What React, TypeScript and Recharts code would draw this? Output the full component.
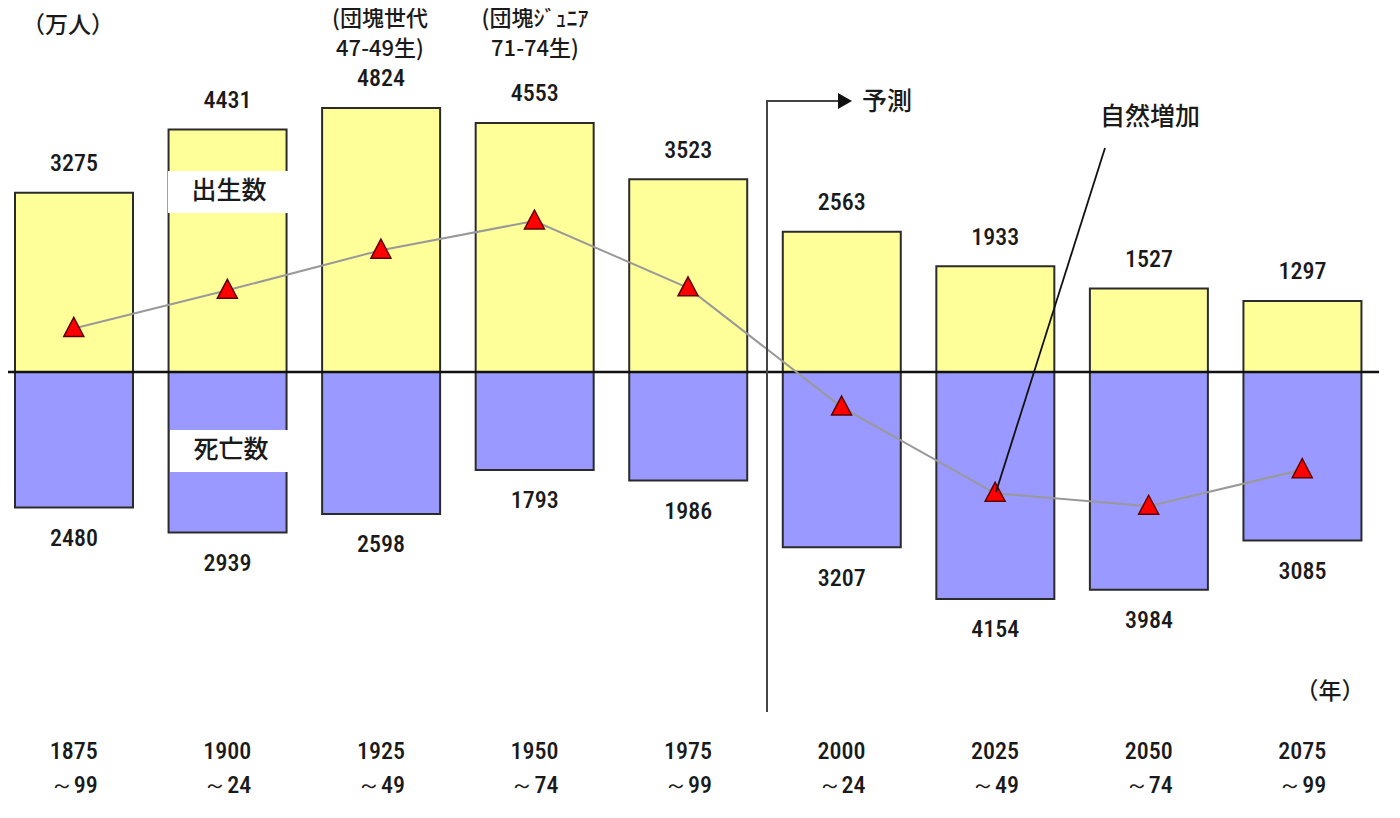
import React from "react";
import {
  ComposedChart,
  Bar,
  Line,
  XAxis,
  YAxis,
  ReferenceLine,
  LabelList,
} from "recharts";

// 出生数・死亡数（万人）、25年ごと
const periods = ["1875", "1900", "1925", "1950", "1975", "2000", "2025", "2050", "2075"];
const periodEnds = ["～99", "～24", "～49", "～74", "～99", "～24", "～49", "～74", "～99"];
const births = [3275, 4431, 4824, 4553, 3523, 2563, 1933, 1527, 1297];
const deaths = [2480, 2939, 2598, 1793, 1986, 3207, 4154, 3984, 3085];
const naturalIncrease = [795, 1492, 2226, 2760, 1537, -644, -2221, -2457, -1788];

const data = periods.map((p, i) => ({
  name: p,
  end: periodEnds[i],
  births: births[i],
  deaths: -deaths[i],
  natural: naturalIncrease[i],
}));

const NUM_FONT = '"Liberation Sans Narrow", "Roboto Condensed", "Liberation Sans", sans-serif';
const JP_FONT = '"Noto Sans CJK JP", sans-serif';
const TEXT = "#1a1a1a";

function BirthLabel(props: any) {
  const { x, y, width, value } = props;
  return (
    <text x={x + width / 2} y={y - 28} textAnchor="middle" dominantBaseline="middle"
      fontFamily={NUM_FONT} fontSize={24} fontWeight={500} fill={TEXT}>
      {value}
    </text>
  );
}

function DeathLabel(props: any) {
  const { x, y, width, height, value } = props;
  const bottom = Math.max(y, y + height);
  return (
    <text x={x + width / 2} y={bottom + 32} textAnchor="middle" dominantBaseline="middle"
      fontFamily={NUM_FONT} fontSize={24} fontWeight={500} fill={TEXT}>
      {Math.abs(value)}
    </text>
  );
}

function Triangle(props: any) {
  const { cx, cy } = props;
  if (cx == null || cy == null) return null;
  return (
    <path
      d={`M${cx},${cy - 11} L${cx - 10},${cy + 8} L${cx + 10},${cy + 8} Z`}
      fill="#ff0000"
      stroke="#600000"
      strokeWidth={1.5}
    />
  );
}

function PeriodTick(props: any) {
  const { x, payload, index } = props;
  return (
    <g>
      <text x={x} y={753} textAnchor="middle" dominantBaseline="middle"
        fontFamily={NUM_FONT} fontSize={24} fontWeight={500} fill={TEXT}>
        {payload.value}
      </text>
      <text x={x} y={787} textAnchor="middle" dominantBaseline="middle"
        fontFamily={NUM_FONT} fontSize={24} fontWeight={500} fill={TEXT}>
        {periodEnds[index]}
      </text>
    </g>
  );
}

function Notes() {
  const t = { fontFamily: JP_FONT, fontSize: 25, fontWeight: 500, fill: TEXT };
  const s = { fontFamily: JP_FONT, fontSize: 22, fontWeight: 500, fill: TEXT };
  return (
    <svg width={1400} height={818} style={{ position: "absolute", left: 3, top: 0, pointerEvents: "none" }}>
      <text x={68} y={27} textAnchor="middle" dominantBaseline="middle" {...s} fontSize={23}>（万人）</text>
      <text x={380} y={20} textAnchor="middle" dominantBaseline="middle" {...s}>(団塊世代</text>
      <text x={380} y={50} textAnchor="middle" dominantBaseline="middle" {...s}>47-49生)</text>
      <text x={535} y={20} textAnchor="middle" dominantBaseline="middle" {...s}>(団塊ｼﾞｭﾆｱ</text>
      <text x={535} y={50} textAnchor="middle" dominantBaseline="middle" {...s}>71-74生)</text>
      <text x={1330} y={693} textAnchor="middle" dominantBaseline="middle" {...s} fontSize={23}>（年）</text>

      <rect x={168} y={171} width={122} height={42} fill="#ffffff" />
      <text x={229} y={192} textAnchor="middle" dominantBaseline="middle" {...t}>出生数</text>
      <rect x={170} y={430} width={122} height={42} fill="#ffffff" />
      <text x={231} y={451} textAnchor="middle" dominantBaseline="middle" {...t}>死亡数</text>

      <polyline points="767,712 767,101 840,101" fill="none" stroke="#444" strokeWidth={2} />
      <path d="M838,93 L852,101 L838,109 Z" fill="#111" />
      <text x={887} y={103} textAnchor="middle" dominantBaseline="middle" {...t}>予測</text>

      <text x={1150} y={118} textAnchor="middle" dominantBaseline="middle" {...t}>自然増加</text>
      <line x1={1105} y1={148} x2={996} y2={492} stroke="#111" strokeWidth={1.8} />
    </svg>
  );
}

export default function App() {
  return (
    <div style={{ position: "relative", width: 1400, height: 818, margin: "-8px 0 0 -11px", background: "#fff" }}>
      <ComposedChart
        width={1400}
        height={818}
        data={data}
        stackOffset="sign"
        margin={{ top: 98.5, right: 18, bottom: 88, left: 0 }}
      >
        <XAxis dataKey="name" axisLine={false} tickLine={false} tick={<PeriodTick />} interval={0} height={30} />
        <YAxis hide domain={[-6000, 5000]} />
        <Bar dataKey="births" stackId="a" barSize={118} fill="#ffff99" stroke="#2b2b2b" strokeWidth={2} isAnimationActive={false}>
          <LabelList dataKey="births" content={<BirthLabel />} />
        </Bar>
        <Bar dataKey="deaths" stackId="a" barSize={118} fill="#9999ff" stroke="#2b2b2b" strokeWidth={2} isAnimationActive={false}>
          <LabelList dataKey="deaths" content={<DeathLabel />} />
        </Bar>
        <ReferenceLine y={0} stroke="#111" strokeWidth={2.5} />
        <Line
          dataKey="natural"
          type="linear"
          stroke="#999999"
          strokeWidth={2}
          dot={<Triangle />}
          activeDot={false}
          isAnimationActive={false}
        />
      </ComposedChart>
      <Notes />
    </div>
  );
}
